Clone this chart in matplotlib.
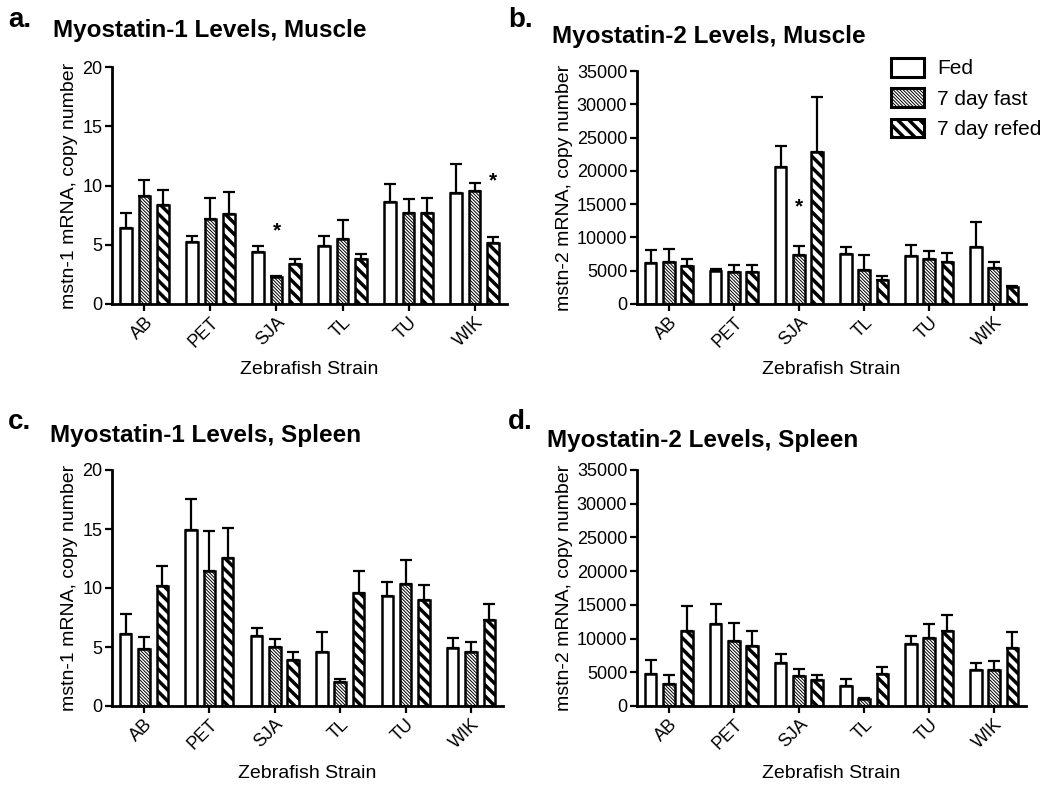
import matplotlib
matplotlib.use("Agg")
import matplotlib.pyplot as plt
import numpy as np

plt.rcParams['font.family'] = ['Liberation Sans', 'DejaVu Sans']

strains = ["AB", "PET", "SJA", "TL", "TU", "WIK"]
groups = ["Fed", "7 day fast", "7 day refed"]

# Panel a: Myostatin-1, Muscle
a_fed = [6.43, 5.25, 4.41, 4.92, 8.60, 9.33]
a_fed_err = [1.29, 0.51, 0.48, 0.81, 1.54, 2.52]
a_fast = [9.10, 7.16, 2.25, 5.50, 7.70, 9.52]
a_fast_err = [1.35, 1.77, 0.11, 1.55, 1.15, 0.70]
a_refed = [8.34, 7.56, 3.37, 3.82, 7.72, 5.17]
a_refed_err = [1.32, 1.85, 0.42, 0.39, 1.24, 0.50]

# Panel b: Myostatin-2, Muscle
b_fed = [6150, 4900, 20650, 7500, 7250, 8550]
b_fed_err = [2000, 350, 3150, 1000, 1650, 3750]
b_fast = [6300, 4850, 7300, 5050, 6750, 5400]
b_fast_err = [2000, 1050, 1350, 2350, 1150, 950]
b_refed = [5650, 4750, 22900, 3650, 6350, 2550]
b_refed_err = [1100, 1150, 8150, 500, 1300, 200]

# Panel c: Myostatin-1, Spleen
c_fed = [6.06, 14.93, 5.92, 4.59, 9.35, 4.93]
c_fed_err = [1.77, 2.62, 0.70, 1.66, 1.19, 0.84]
c_fast = [4.79, 11.41, 5.01, 2.03, 10.37, 4.59]
c_fast_err = [1.04, 3.44, 0.68, 0.22, 1.97, 0.85]
c_refed = [10.14, 12.54, 3.86, 9.58, 8.96, 7.32]
c_refed_err = [1.75, 2.53, 0.73, 1.88, 1.32, 1.36]

# Panel d: Myostatin-2, Spleen
d_fed = [4800, 12210, 6430, 2970, 9140, 5340]
d_fed_err = [1970, 2920, 1330, 1080, 1290, 1040]
d_fast = [3310, 9640, 4400, 1090, 10130, 5340]
d_fast_err = [1290, 2720, 1090, 150, 1980, 1330]
d_refed = [11070, 8900, 3860, 4700, 11070, 8650]
d_refed_err = [3710, 2270, 690, 1080, 2380, 2320]

panels = [
    dict(letter="a.", title="Myostatin-1 Levels, Muscle", ylabel="mstn-1 mRNA, copy number",
         data=[(a_fed, a_fed_err), (a_fast, a_fast_err), (a_refed, a_refed_err)],
         ylim=20, yticks=[0, 5, 10, 15, 20],
         stars=[(2, 1, 6.2), (5, 2, 10.4)],
         rect=[112, 67, 507, 304], title_xy=(53, 30), letter_xy=(8, 20), xlab_y=370),
    dict(letter="b.", title="Myostatin-2 Levels, Muscle", ylabel="mstn-2 mRNA, copy number",
         data=[(b_fed, b_fed_err), (b_fast, b_fast_err), (b_refed, b_refed_err)],
         ylim=35000, yticks=list(range(0, 35001, 5000)),
         stars=[(2, 1, 14650)],
         rect=[637, 71, 1026, 304], title_xy=(552, 36), letter_xy=(508, 20), xlab_y=370),
    dict(letter="c.", title="Myostatin-1 Levels, Spleen", ylabel="mstn-1 mRNA, copy number",
         data=[(c_fed, c_fed_err), (c_fast, c_fast_err), (c_refed, c_refed_err)],
         ylim=20, yticks=[0, 5, 10, 15, 20],
         stars=[],
         rect=[112, 470, 503, 706], title_xy=(50, 436), letter_xy=(8, 422), xlab_y=773),
    dict(letter="d.", title="Myostatin-2 Levels, Spleen", ylabel="mstn-2 mRNA, copy number",
         data=[(d_fed, d_fed_err), (d_fast, d_fast_err), (d_refed, d_refed_err)],
         ylim=35000, yticks=list(range(0, 35001, 5000)),
         stars=[],
         rect=[637, 470, 1026, 706], title_xy=(547, 441), letter_xy=(508, 422), xlab_y=773),
]

W, H = 1048, 786
fig = plt.figure(figsize=(W / 100, H / 100), dpi=100)

hatches = [None, "\\" * 10, "\\" * 3]
hatch_lws = [1.0, 0.7, 2.5]
offsets = [-0.28, 0.0, 0.28]
bw = 0.175
lw = 1.8


def set_hlw(patch, val):
    if hasattr(patch, "set_hatch_linewidth"):
        patch.set_hatch_linewidth(val)


legend_handles = None
x = np.arange(len(strains))
for p in panels:
    l, t, r, b = p["rect"]
    ax = fig.add_axes([l / W, 1 - b / H, (r - l) / W, (b - t) / H])
    handles = []
    for gi, (vals, errs) in enumerate(p["data"]):
        with plt.rc_context({'hatch.linewidth': hatch_lws[gi]}):
            bars = ax.bar(x + offsets[gi], vals, width=bw, color="white", edgecolor="black",
                          linewidth=lw, hatch=hatches[gi], zorder=2, label=groups[gi])
        for patch in bars:
            set_hlw(patch, hatch_lws[gi])
        ax.errorbar(x + offsets[gi], vals, yerr=[np.zeros(len(vals)), errs], fmt="none",
                    ecolor="black", elinewidth=1.6, capsize=4.5, capthick=1.6, zorder=1)
        handles.append(bars)
    if legend_handles is None:
        legend_handles = handles
    for (si, gi, yv) in p["stars"]:
        ax.text(si + offsets[gi], yv, "*", ha="center", va="center", fontsize=15,
                fontweight="bold")
    ax.set_xlim(-0.49, 5.49)
    ax.set_ylim(0, p["ylim"])
    ax.set_yticks(p["yticks"])
    ax.set_xticks(x)
    ax.set_xticklabels(strains, rotation=45, ha="right", rotation_mode="anchor")
    for s in ["top", "right"]:
        ax.spines[s].set_visible(False)
    for s in ["left", "bottom"]:
        ax.spines[s].set_linewidth(2.0)
    ax.tick_params(axis="both", direction="out", length=5, width=1.6, labelsize=13,
                   pad=2)
    ax.set_ylabel(p["ylabel"], fontsize=14, labelpad=3)
    cx = (l + r) / 2 / W
    fig.text(cx, 1 - p["xlab_y"] / H, "Zebrafish Strain", ha="center", va="center",
             fontsize=14)
    fig.text(p["title_xy"][0] / W, 1 - p["title_xy"][1] / H, p["title"], ha="left",
             va="center", fontsize=17.5, fontweight="bold")
    fig.text(p["letter_xy"][0] / W, 1 - p["letter_xy"][1] / H, p["letter"], ha="left",
             va="center", fontsize=20, fontweight="bold")

leg = fig.legend(legend_handles, groups, loc="upper left",
                 bbox_to_anchor=(891 / W, 1 - 58 / H),
                 frameon=False, fontsize=15, handlelength=1.6, handleheight=1.0,
                 handletextpad=0.6, labelspacing=0.47, borderpad=0, borderaxespad=0)
for gi, patch in enumerate(leg.get_patches()):
    set_hlw(patch, hatch_lws[gi])
    patch.set_linewidth(2.2)

fig.savefig("out.png", dpi=100)
